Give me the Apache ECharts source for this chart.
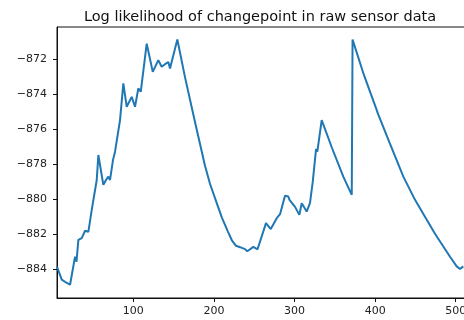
<!DOCTYPE html>
<html>
<head>
<meta charset="utf-8">
<script src="https://cdn.jsdelivr.net/npm/echarts@6/dist/echarts.min.js"></script>
<style>html,body{margin:0;padding:0;background:#fff}#c{width:464px;height:320px}</style>
</head>
<body>
<div id="c"></div>
<script>
// Data
const titleText = "Log likelihood of changepoint in raw sensor data";
const xs = [5.3, 11.2, 17.4, 21.5, 23.9, 27.7, 29.5, 31.8, 33.9, 36.0, 40.1, 42.2, 44.2, 48.4, 50.4, 54.6, 56.6, 62.8, 66.1, 69.0, 71.1, 74.8, 77.3, 79.4, 83.5, 87.6, 91.8, 98.0, 102.1, 106.2, 109.2, 116.6, 124.1, 131.0, 135.2, 139.3, 143.4, 145.5, 154.6, 164.1, 176.5, 189.0, 195.2, 203.5, 210.0, 217.5, 222.5, 227.4, 232.4, 238.6, 241.4, 248.9, 254.1, 264.6, 270.5, 277.9, 282.0, 288.2, 292.3, 293.8, 295.3, 300.6, 306.0, 308.9, 315.1, 317.1, 319.2, 322.6, 326.7, 328.3, 333.7, 346.5, 360.5, 371.0, 372.0, 386.2, 402.0, 403.7, 418.5, 435.0, 449.5, 464.0, 474.3, 484.6, 492.9, 501.2, 505.3, 509.4];
const ys = [-883.87, -884.61, -884.8, -884.9, -884.9, -883.29, -883.58, -882.33, -882.39, -882.23, -881.81, -881.75, -881.87, -880.61, -880.57, -878.9, -877.47, -879.18, -878.9, -878.71, -878.9, -877.75, -877.28, -877.18, -875.47, -873.37, -874.71, -874.14, -874.71, -873.66, -873.85, -871.09, -872.71, -872.04, -872.42, -872.27, -872.15, -872.51, -870.86, -873.01, -875.58, -878.1, -879.13, -880.23, -881.07, -881.87, -882.38, -882.67, -882.75, -882.86, -882.98, -882.73, -882.87, -881.37, -881.71, -881.09, -880.86, -879.81, -879.85, -880.04, -879.93, -880.44, -880.9, -880.23, -880.71, -880.61, -880.21, -879.01, -877.13, -877.28, -875.47, -877.07, -878.71, -879.75, -870.86, -872.9, -874.9, -875.13, -876.84, -878.71, -880.04, -881.18, -881.98, -882.71, -883.3, -883.85, -884.0, -883.85];
const xTicks = [100, 200, 300, 400, 500];
const yTicks = [-884, -882, -880, -878, -876, -874, -872];

const pts = xs.map((x, i) => [x, ys[i]]);
const chart = echarts.init(document.getElementById('c'), null, {renderer: 'canvas'});
const fontFamily = 'DejaVu Sans';
chart.setOption({
  animation: false,
  title: {
    text: titleText, left: 255, top: 5, textAlign: 'center',
    textStyle: {fontFamily, fontSize: 14.5, fontWeight: 'normal', color: '#111'}
  },
  grid: {left: 57, right: -1, top: 27, bottom: 22, show: true, borderColor: '#111', borderWidth: 1,
    containLabel: false, outerBoundsMode: 'none'},
  xAxis: {
    type: 'value', min: 5.3, max: 511.5,
    axisLine: {show: true, lineStyle: {color: '#111', width: 1}},
    axisTick: {show: true, customValues: xTicks, length: 4, inside: false, lineStyle: {color: '#111'}},
    axisLabel: {customValues: xTicks, margin: 8, fontFamily, fontSize: 11, color: '#222'},
    splitLine: {show: false}
  },
  yAxis: {
    type: 'value', min: -885.66, max: -870.14,
    axisLine: {show: true, lineStyle: {color: '#111', width: 1}},
    axisTick: {show: true, customValues: yTicks, length: 4, inside: false, lineStyle: {color: '#111'}},
    axisLabel: {customValues: yTicks, margin: 10, fontFamily, fontSize: 11, color: '#222',
      formatter: v => String(v).replace('-', '\u2212')},
    splitLine: {show: false}
  },
  series: [{
    type: 'line', data: pts, showSymbol: false, symbol: 'none',
    lineStyle: {color: '#1f77b4', width: 2}, clip: true
  }]
});
</script>
</body>
</html>
